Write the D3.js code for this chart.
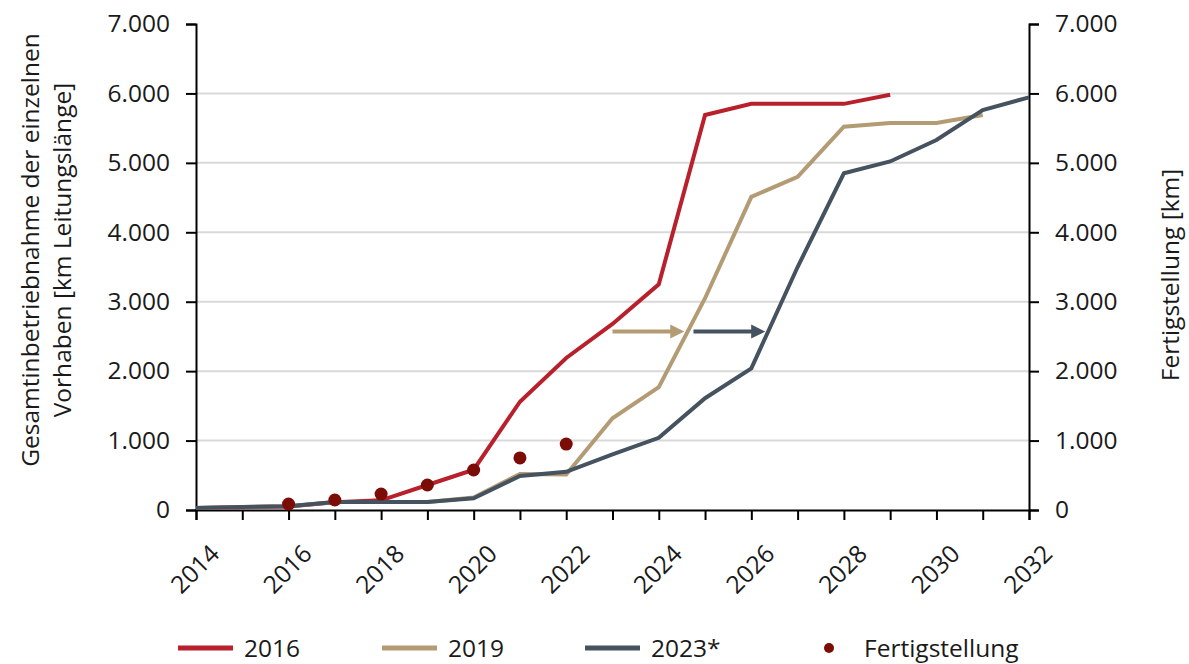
<!DOCTYPE html>
<html>
<head>
<meta charset="utf-8">
<script src="https://cdn.jsdelivr.net/npm/d3@7"></script>
<style>
  body { margin: 0; background: #fff; }
  text { font-family: "Open Sans", sans-serif; fill: #1a1a1a; }
</style>
</head>
<body>
<svg id="chart" width="1189" height="664"></svg>
<script>
// data
var years = d3.range(2014, 2033);
var series2016 = [30, 40, 50, 110, 140, 360, 580, 1560, 2190, 2680, 3250, 5690, 5850, 5850, 5850, 5980];
var series2019 = [30, 45, 55, 115, 115, 115, 180, 520, 510, 1320, 1770, 3050, 4510, 4800, 5520, 5575, 5575, 5690];
var series2023 = [30, 45, 55, 115, 115, 115, 170, 490, 550, 800, 1040, 1610, 2040, 3500, 4850, 5020, 5330, 5760, 5944];
var fertigYears = [2016, 2017, 2018, 2019, 2020, 2021, 2022];
var fertigValues = [86, 144, 230, 360, 576, 750, 950];
var yTicks = [0, 1000, 2000, 3000, 4000, 5000, 6000, 7000];
var xLabelYears = [2014, 2016, 2018, 2020, 2022, 2024, 2026, 2028, 2030, 2032];
// shift arrows (year from, year to, value)
var arrows = [
  {from: 2023.0, to: 2024.55, value: 2570, key: "2019"},
  {from: 2024.75, to: 2026.3, value: 2570, key: "2023*"}
];

var colors = {"2016": "#b8212c", "2019": "#b39b74", "2023*": "#45525f", "Fertig": "#7b0c06"};
var fontSize = "24.5px";

var svg = d3.select("#chart");
var margin = {top: 24, right: 160, bottom: 154, left: 196};
var width = 1189 - margin.left - margin.right,
    height = 664 - margin.top - margin.bottom;

var g = svg.append("g")
    .attr("transform", "translate(" + margin.left + "," + margin.top + ")");

var x = d3.scaleLinear().domain([2014, 2032]).range([0, width]);
var y = d3.scaleLinear().domain([0, 7000]).range([height, 0]);
var fmt = function(d) { return d === 0 ? "0" : d3.format(",")(d).replace(",", "."); };

// gridlines
g.selectAll(".grid")
    .data(yTicks.filter(function(d) { return d > 0 && d < 7000; }))
  .enter().append("line")
    .attr("x1", 0).attr("x2", width)
    .attr("y1", y).attr("y2", y)
    .attr("stroke", "#d9d9d9")
    .attr("stroke-width", 2);

// axes
var leftAxis = g.append("g")
    .call(d3.axisLeft(y).tickValues(yTicks).tickFormat(fmt).tickSize(10).tickPadding(16));
var rightAxis = g.append("g")
    .attr("transform", "translate(" + width + ",0)")
    .call(d3.axisRight(y).tickValues(yTicks).tickFormat(fmt).tickSize(10).tickPadding(16));
var bottomAxis = g.append("g")
    .attr("transform", "translate(0," + height + ")")
    .call(d3.axisBottom(x).tickValues(years).tickFormat(function(d) {
      return xLabelYears.indexOf(d) >= 0 ? d : "";
    }).tickSize(10).tickPadding(6));

[leftAxis, rightAxis, bottomAxis].forEach(function(a) {
  a.select(".domain").attr("stroke", "#000").attr("stroke-width", 2);
  a.selectAll(".tick line").attr("stroke", "#000").attr("stroke-width", 2);
  a.selectAll(".tick text").style("font-size", fontSize).attr("fill", "#1a1a1a");
});

bottomAxis.selectAll(".tick text")
    .attr("text-anchor", "end")
    .attr("dy", "0.35em")
    .attr("transform", "translate(7,28) rotate(-45)");

// lines
var line = d3.line()
    .x(function(d, i) { return x(years[i]); })
    .y(function(d) { return y(d); });

[["2016", series2016], ["2019", series2019], ["2023*", series2023]].forEach(function(s) {
  g.append("path")
      .datum(s[1])
      .attr("d", line)
      .attr("fill", "none")
      .attr("stroke", colors[s[0]])
      .attr("stroke-width", 4)
      .attr("stroke-linejoin", "miter");
});

// shift arrows
arrows.forEach(function(a) {
  var x0 = x(a.from), x1 = x(a.to), yy = y(a.value);
  g.append("line")
      .attr("x1", x0).attr("x2", x1 - 12)
      .attr("y1", yy).attr("y2", yy)
      .attr("stroke", colors[a.key])
      .attr("stroke-width", 4);
  g.append("path")
      .attr("d", "M" + x1 + "," + yy + "L" + (x1 - 14) + "," + (yy - 7) + "L" + (x1 - 14) + "," + (yy + 7) + "Z")
      .attr("fill", colors[a.key]);
});

// Fertigstellung dots
g.selectAll(".dot")
    .data(fertigValues)
  .enter().append("circle")
    .attr("cx", function(d, i) { return x(fertigYears[i]); })
    .attr("cy", y)
    .attr("r", 6.5)
    .attr("fill", colors.Fertig);

// axis titles
var leftTitle = svg.append("text")
    .attr("transform", "translate(0,250) rotate(-90)")
    .attr("text-anchor", "middle")
    .style("font-size", fontSize);
leftTitle.append("tspan").attr("x", 0).attr("y", 39).text("Gesamtinbetriebnahme der einzelnen");
leftTitle.append("tspan").attr("x", 0).attr("y", 71).text("Vorhaben [km Leitungslänge]");

svg.append("text")
    .attr("transform", "translate(1179,275) rotate(-90)")
    .attr("text-anchor", "middle")
    .style("font-size", fontSize)
    .text("Fertigstellung [km]");

// legend
var legend = svg.append("g").attr("transform", "translate(0,648)");
var legendItems = [
  {key: "2016", label: "2016", x: 178},
  {key: "2019", label: "2019", x: 382},
  {key: "2023*", label: "2023*", x: 585}
];
legendItems.forEach(function(d) {
  legend.append("line")
      .attr("x1", d.x).attr("x2", d.x + 55)
      .attr("y1", 0).attr("y2", 0)
      .attr("stroke", colors[d.key])
      .attr("stroke-width", 5);
  legend.append("text")
      .attr("x", d.x + 66).attr("y", 0).attr("dy", "0.35em")
      .style("font-size", fontSize)
      .text(d.label);
});
legend.append("circle").attr("cx", 829).attr("cy", 0).attr("r", 5).attr("fill", colors.Fertig);
legend.append("text")
    .attr("x", 864).attr("y", 0).attr("dy", "0.35em")
    .style("font-size", fontSize)
    .text("Fertigstellung");
</script>
</body>
</html>
